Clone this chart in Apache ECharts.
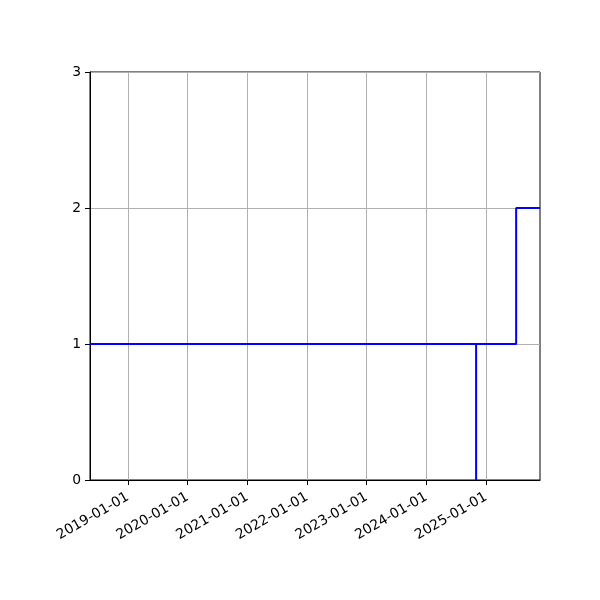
<!DOCTYPE html>
<html>
<head>
<meta charset="utf-8">
<script src="https://cdn.jsdelivr.net/npm/echarts@6/dist/echarts.min.js"></script>
<style>html,body{margin:0;padding:0;background:#fff;}#c{width:600px;height:600px;}</style>
</head>
<body>
<div id="c"></div>
<script>
var xRange = ['2018-05-14', '2025-11-27'];
var stepDates = ['2018-05-14', '2024-11-01', '2024-11-01', '2025-07-04', '2025-11-27'];
var stepValues = [1, 0, 1, 2, 2];
var xTicks = ['2019-01-01', '2020-01-01', '2021-01-01', '2022-01-01', '2023-01-01', '2024-01-01', '2025-01-01'];
var yTicks = [0, 1, 2, 3];

function ts(s) { var p = s.split('-'); return Date.UTC(+p[0], +p[1] - 1, +p[2]); }
function fmt(v) {
  var d = new Date(v);
  function p2(n) { return (n < 10 ? '0' : '') + n; }
  return d.getUTCFullYear() + '-' + p2(d.getUTCMonth() + 1) + '-' + p2(d.getUTCDate());
}
var tickTs = xTicks.map(ts);
var data = stepDates.map(function (d, i) { return [ts(d), stepValues[i]]; });

var chart = echarts.init(document.getElementById('c'), null, { renderer: 'canvas' });
chart.setOption({
  animation: false,
  backgroundColor: '#fff',
  grid: { left: 90, right: 60, top: 72, bottom: 120, show: true, borderColor: '#000', borderWidth: 1, containLabel: false },
  xAxis: {
    type: 'value',
    min: ts(xRange[0]),
    max: ts(xRange[1]),
    axisLine: { show: true, lineStyle: { color: '#000', width: 1 } },
    axisTick: { show: true, customValues: tickTs, length: 5, lineStyle: { color: '#000' } },
    axisLabel: {
      customValues: tickTs,
      rotate: 30,
      color: '#000',
      fontSize: 13.9,
      fontFamily: 'DejaVu Sans',
      margin: 16,
      formatter: function (v) { return fmt(v); }
    },
    splitLine: { show: false }
  },
  yAxis: {
    type: 'value',
    min: yTicks[0],
    max: yTicks[yTicks.length - 1],
    interval: 1,
    axisLine: { show: true, lineStyle: { color: '#000', width: 1 } },
    axisTick: { show: true, length: 5, lineStyle: { color: '#000' } },
    axisLabel: { color: '#000', fontSize: 13.9, fontFamily: 'DejaVu Sans', margin: 9 },
    splitLine: { show: true, lineStyle: { color: '#b0b0b0', width: 1 } }
  },
  series: [
    {
      type: 'line',
      data: data,
      step: 'end',
      showSymbol: false,
      lineStyle: { color: '#0000ff', width: 2 },
      z: 3,
      markLine: {
        silent: true,
        symbol: 'none',
        label: { show: false },
        lineStyle: { color: '#b0b0b0', width: 1, type: 'solid' },
        z: 1,
        data: tickTs.map(function (t) { return { xAxis: t }; })
      }
    }
  ]
});
</script>
</body>
</html>
